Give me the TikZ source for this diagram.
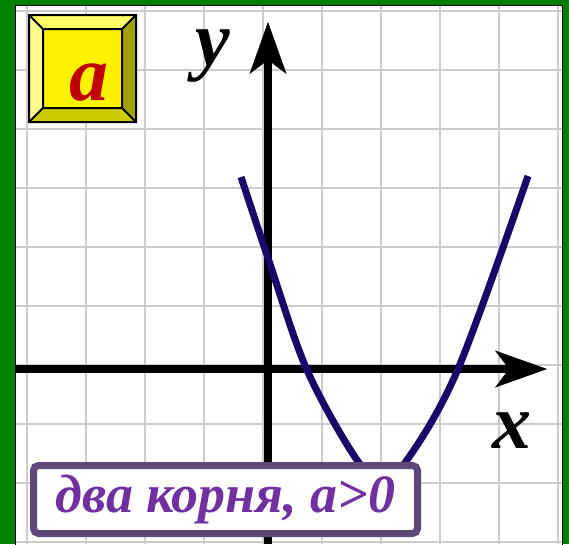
\documentclass[tikz,border=0pt]{standalone}
\usepackage{fontspec}
\setmainfont{Liberation Serif}
\usetikzlibrary{arrows.meta}

\definecolor{framegreen}{RGB}{0,128,0}
\definecolor{gridgray}{RGB}{204,204,204}
\definecolor{curvenavy}{RGB}{24,8,104}
\definecolor{boxpurple}{RGB}{95,73,122}
\definecolor{textpurple}{RGB}{112,48,160}
\definecolor{badgered}{RGB}{192,0,0}
\definecolor{bevelleft}{RGB}{255,255,140}
\definecolor{beveltop}{RGB}{255,255,102}
\definecolor{bevelbottom}{RGB}{204,204,0}
\definecolor{bevelright}{RGB}{160,160,0}

\tikzset{
  gridline/.style={gridgray, line width=2pt},
  axis/.style={line width=8pt, -{Stealth[length=52pt, width=37pt, inset=14pt, line width=0.5pt]}},
  axislabel/.style={font=\bfseries\itshape\fontsize{78}{80}\selectfont, inner sep=0pt,
    text height=1ex, text depth=0.23em, anchor=base},
  labelbox/.style={draw=boxpurple, line width=7pt, fill=white, rounded corners=5pt,
    minimum width=384pt, minimum height=68pt, inner sep=0pt, text=textpurple,
    font=\bfseries\itshape\fontsize{54}{58}\selectfont}
}

\begin{document}
\begin{tikzpicture}[x=1pt, y=-1pt]
  \useasboundingbox (0,0) rectangle (569,544);

  % frame and grid
  \fill[framegreen] (0,0) rectangle (569,544);
  \draw[fill=white, line width=1pt] (15.5,5.5) rectangle (562.5,560);
  \foreach \gx in {27,86,...,558}
    \draw[gridline] (\gx,6) -- (\gx,544);
  \foreach \gy in {11,70,...,542}
    \draw[gridline] (16,\gy) -- (562,\gy);

  % axes
  \draw[axis] (16,369) -- (547,369);
  \draw[axis] (268,544) -- (268,22);
  \node[axislabel] (xlabel) at (512,448) {x};
  \node[axislabel] (ylabel) at (213,65) {y};

  % parabola
  \draw[curvenavy, line width=7pt] plot[smooth, tension=0.55] coordinates
    {(241,177) (268,258) (307,370) (357,460) (382,477) (407,460) (458,369) (528,176)};

  % badge
  \begin{scope}
    \fill[beveltop] (29,15) -- (136,15) -- (122,29) -- (43,29) -- cycle;
    \fill[bevelleft] (29,15) -- (43,29) -- (43,108) -- (29,122) -- cycle;
    \fill[bevelright] (136,15) -- (136,122) -- (122,108) -- (122,29) -- cycle;
    \fill[bevelbottom] (29,122) -- (43,108) -- (122,108) -- (136,122) -- cycle;
    \fill[yellow] (43,29) rectangle (122,108);
    \draw[line width=2pt, line join=miter] (29,15) rectangle (136,122) (43,29) rectangle (122,108)
      (29,15) -- (43,29) (136,15) -- (122,29) (29,122) -- (43,108) (136,122) -- (122,108);
    \node[axislabel, text=badgered] (badge) at (89,100) {a};
  \end{scope}

  % caption
  \node[labelbox] (roots) at (225.5,499.5) {два корня, a>0};
\end{tikzpicture}
\end{document}
